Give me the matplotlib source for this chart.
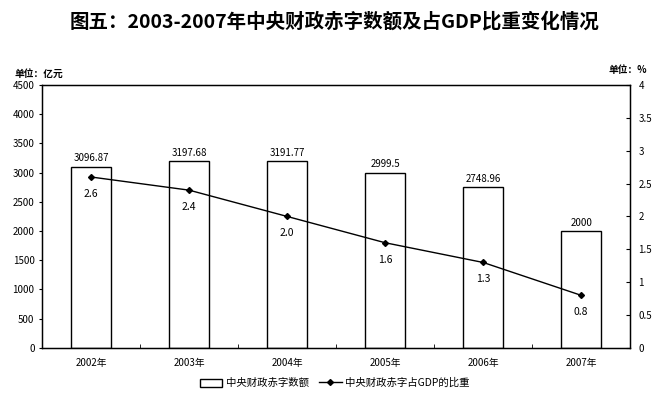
import matplotlib.pyplot as plt
import numpy as np

plt.rcParams['font.family'] = ['Noto Sans CJK SC', 'DejaVu Sans']

# 数据
years = ['2002年', '2003年', '2004年', '2005年', '2006年', '2007年']
deficit = [3096.87, 3197.68, 3191.77, 2999.5, 2748.96, 2000]
deficit_labels = ['3096.87', '3197.68', '3191.77', '2999.5', '2748.96', '2000']
ratio = [2.6, 2.4, 2.0, 1.6, 1.3, 0.8]
ratio_labels = ['2.6', '2.4', '2.0', '1.6', '1.3', '0.8']

fig = plt.figure(figsize=(6.69, 3.99), dpi=100)
ax = fig.add_axes([0.063, 0.128, 0.879, 0.659])
x = np.arange(len(years))

ax.bar(x, deficit, width=0.41, color='white', edgecolor='black', linewidth=1.0,
       label='中央财政赤字数额')
for xi, v, s in zip(x, deficit, deficit_labels):
    ax.text(xi, v + 60, s, ha='center', va='bottom', fontsize=7)

ax.set_xlim(-0.5, len(years) - 0.5)
ax.set_ylim(0, 4500)
ax.set_yticks(np.arange(0, 4501, 500))
ax.set_xticks(x)
ax.set_xticklabels(years, fontsize=7)
ax.set_xticks(np.arange(0.5, len(years) - 1, 1), minor=True)
ax.tick_params(axis='x', which='major', length=0, pad=7)
ax.tick_params(axis='x', which='minor', length=3, direction='in')
ax.tick_params(axis='y', labelsize=7, length=2, direction='out')
for sp in ax.spines.values():
    sp.set_linewidth(1.0)

ax2 = ax.twinx()
ax2.plot(x, ratio, color='black', linewidth=1.0, marker='D', markersize=3,
         label='中央财政赤字占GDP的比重')
for xi, v, s in zip(x, ratio, ratio_labels):
    ax2.text(xi, v - 0.18, s, ha='center', va='top', fontsize=7.5)
ax2.set_ylim(0, 4)
ax2.set_yticks([0, 0.5, 1, 1.5, 2, 2.5, 3, 3.5, 4])
ax2.set_yticklabels(['0', '0.5', '1', '1.5', '2', '2.5', '3', '3.5', '4'])
ax2.tick_params(axis='y', labelsize=7, length=3, direction='in', pad=6)

fig.text(0.5, 0.945, '图五：2003-2007年中央财政赤字数额及占GDP比重变化情况',
         ha='center', va='center', fontsize=14, fontweight='bold')
fig.text(0.022, 0.815, '单位：亿元', fontsize=7, fontweight='bold', ha='left', va='center')
fig.text(0.91, 0.825, '单位：%', fontsize=7, fontweight='bold', ha='left', va='center')

h1, l1 = ax.get_legend_handles_labels()
h2, l2 = ax2.get_legend_handles_labels()
fig.legend(h1 + h2, l1 + l2, loc='center', bbox_to_anchor=(0.5, 0.04), ncol=2,
           frameon=False, fontsize=7.5, handlelength=2.2, handleheight=0.8,
           columnspacing=1.0, handletextpad=0.3)

fig.savefig('out.png', dpi=100)
